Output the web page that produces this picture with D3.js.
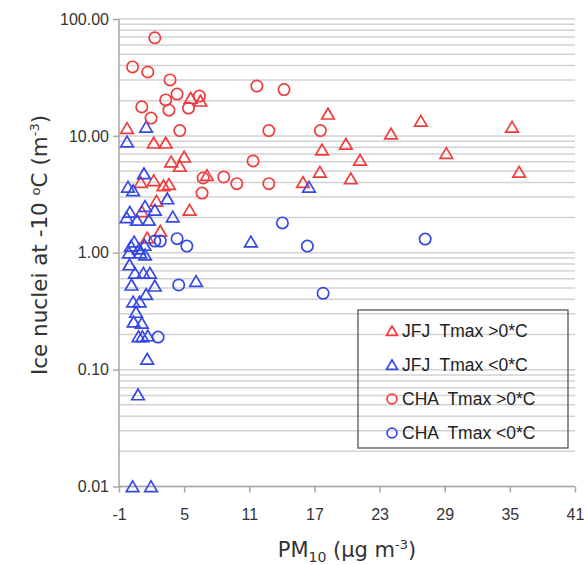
<!DOCTYPE html>
<meta charset="UTF-8">
<style>
    body { margin: 0; background: #fff; }
    text { font-family: "Liberation Sans", Arial, sans-serif; }
    .grid line { stroke: #d2d2d2; stroke-width: 1.5px; }
    .axis path, .axis line { stroke: #a6a6a6; stroke-width: 1.5px; }
    .axis text { font-size: 16px; fill: #333; }
    .legend text { font-size: 17.5px; fill: #222; white-space: pre; }
    .title { font-family: "DejaVu Sans", sans-serif; font-size: 21px; fill: #333; }
</style>
<body>
<div id="chart"></div>
<script src="https://d3js.org/d3.v7.min.js"></script>
<script>

// JFJ, Tmax > 0 C  (red triangles)
var jfjWarmX = [5.6, 6.5, -0.26, 2.2, 3.3, 3.8, 5.0, 4.6, 1.0, 2.2, 3.1, 3.6, 7.1, 2.45, 5.5, 1.1, 2.8, 1.6,
                18.25, 26.8, 35.2, 24.05, 19.9, 17.7, 29.15, 21.2, 17.5, 35.85, 20.35, 15.95];
var jfjWarmY = [21.0, 19.9, 11.6, 8.7, 8.7, 6.0, 6.6, 5.5, 4.0, 4.15, 3.75, 3.85, 4.6, 2.77, 2.32, 2.25, 1.53, 1.34,
                15.4, 13.4, 11.9, 10.4, 8.5, 7.6, 7.1, 6.2, 4.9, 4.9, 4.3, 4.0];

// JFJ, Tmax < 0 C  (blue triangles)
var jfjColdX = [1.5, -0.26, 1.3, -0.17, 0.3, 3.45, 0.0, 1.4, 2.3, -0.3, 0.65, 1.75, 3.95,
                0.4, 0.1, 0.85, 1.35, -0.08, 0.95, 1.4, -0.03, 0.47, 1.25, 1.85, 0.15, 2.3, 6.1,
                1.5, 0.3, 0.9, 0.57, 0.35, 1.1, 0.8, 1.15, 1.65, 1.6, 0.75, 0.25, 1.95, 16.5, 11.15];
var jfjColdY = [11.9, 8.9, 4.75, 3.65, 3.4, 2.9, 2.23, 2.5, 2.32, 2.0, 1.9, 1.9, 2.03,
                1.24, 1.14, 1.08, 1.16, 1.0, 1.0, 0.96, 0.79, 0.67, 0.67, 0.67, 0.53, 0.52, 0.57,
                0.44, 0.38, 0.38, 0.31, 0.256, 0.25, 0.192, 0.192, 0.195, 0.123, 0.061, 0.01, 0.01, 3.65, 1.24];

// CHA, Tmax > 0 C  (red circles)
var chaWarmX = [2.3, 0.25, 1.65, 3.7, 4.35, 3.3, 6.4, 1.1, 3.6, 5.4, 1.95, 4.6, 6.75, 8.65, 9.85, 6.65,
                11.7, 14.2, 12.8, 17.55, 11.35, 12.8];
var chaWarmY = [69, 38.9, 35.2, 30.1, 22.8, 20.3, 21.9, 17.7, 16.6, 17.3, 14.2, 11.1, 4.36, 4.45, 3.9, 3.24,
                26.7, 24.9, 11.1, 11.1, 6.1, 3.9];

// CHA, Tmax < 0 C  (blue circles)
var chaColdX = [2.3, 2.8, 4.35, 5.25, 4.5, 2.6, 14.05, 16.35, 17.8, 27.2];
var chaColdY = [1.26, 1.26, 1.32, 1.14, 0.53, 0.19, 1.8, 1.14, 0.45, 1.31];

var xTicks = [-1, 5, 11, 17, 23, 29, 35, 41];
var yTicks = [0.01, 0.1, 1, 10, 100];
var legendLabels = ["JFJ  Tmax >0*C", "JFJ  Tmax <0*C", "CHA  Tmax >0*C", "CHA  Tmax <0*C"];

var red = "#f03c3c", blue = "#3748e4";

// series table built from the arrays above
var series = [
    {x: jfjWarmX, y: jfjWarmY, shape: "tri", color: red},
    {x: jfjColdX, y: jfjColdY, shape: "tri", color: blue},
    {x: chaWarmX, y: chaWarmY, shape: "circ", color: red},
    {x: chaColdX, y: chaColdY, shape: "circ", color: blue}
];

// set the dimensions and margins of the graph
var svgW = 587, svgH = 565;
var margin = {top: 19, left: 119},
    width = 456,
    height = 467.5;

var x = d3.scaleLinear().domain([-1, 41]).range([0, width]);
var y = d3.scaleLog().domain([0.01, 100]).range([height, 0]);

var svg = d3.select("#chart").append("svg")
    .attr("width", svgW)
    .attr("height", svgH);

var g = svg.append("g")
    .attr("transform", "translate(" + margin.left + "," + margin.top + ")");

// horizontal grid lines on every 1..9 of each decade
var gridVals = [];
yTicks.slice(0, -1).forEach(function(d) {
    for (var k = 1; k < 10; k++) gridVals.push(d * k);
});
gridVals.push(100);

g.append("g").attr("class", "grid")
    .selectAll("line")
    .data(gridVals)
    .enter().append("line")
    .attr("x1", 0).attr("x2", width)
    .attr("y1", function(d) { return y(d); })
    .attr("y2", function(d) { return y(d); });

// Add the X Axis (plain hyphen for the -1 label)
var xAxis = g.append("g")
    .attr("class", "axis")
    .attr("transform", "translate(0," + height + ")")
    .call(d3.axisBottom(x).tickValues(xTicks).tickFormat(function(d) { return String(d); })
        .tickSizeOuter(0).tickSize(6).tickPadding(16));
xAxis.select(".domain").attr("d", "M0,0H" + width);

// Add the Y Axis
var yAxis = g.append("g")
    .attr("class", "axis")
    .call(d3.axisLeft(y).tickValues(yTicks).tickFormat(d3.format(".2f")).tickSizeOuter(0).tickSize(6).tickPadding(4));
yAxis.select(".domain").attr("d", "M0,0V" + height);

// marker shapes
function triPath(s) {
    return "M0," + (-0.9 * s) + "L" + s + "," + (0.8 * s) + "L" + (-s) + "," + (0.8 * s) + "Z";
}

function drawMarker(sel, shape, color, s) {
    if (shape === "tri") {
        sel.append("path").attr("d", triPath(s));
    } else {
        sel.append("circle").attr("r", s * 0.9);
    }
    sel.selectAll("path, circle")
        .attr("fill", "none")
        .attr("stroke", color)
        .attr("stroke-width", 1.7);
}

// Add the points
series.forEach(function(s) {
    var pts = s.x.map(function(v, i) { return [v, s.y[i]]; });
    g.append("g").selectAll("g")
        .data(pts)
        .enter().append("g")
        .attr("transform", function(d) { return "translate(" + x(d[0]) + "," + y(d[1]) + ")"; })
        .each(function() { drawMarker(d3.select(this), s.shape, s.color, 6.3); });
});

// legend
var legend = svg.append("g").attr("class", "legend");
legend.append("rect")
    .attr("x", 358).attr("y", 310)
    .attr("width", 210).attr("height", 138)
    .attr("fill", "none")
    .attr("stroke", "#555")
    .attr("stroke-width", 1.3);

legendLabels.forEach(function(lab, i) {
    var ly = 331 + i * 34;
    var m = legend.append("g").attr("transform", "translate(392," + ly + ")");
    drawMarker(m, series[i].shape, series[i].color, 5.5);
    legend.append("text")
        .attr("x", 402).attr("y", ly + 6)
        .attr("xml:space", "preserve")
        .text(lab);
});

// axis titles
var xt = svg.append("text")
    .attr("class", "title")
    .attr("x", 347).attr("y", 557)
    .attr("text-anchor", "middle");
xt.append("tspan").text("PM");
xt.append("tspan").attr("dy", 5).style("font-size", "14px").text("10");
xt.append("tspan").attr("dy", -5).text(" (\u00b5g m");
xt.append("tspan").attr("dy", -8).style("font-size", "13px").text("-3");
xt.append("tspan").attr("dy", 8).text(")");

var yt = svg.append("text")
    .attr("class", "title")
    .attr("transform", "translate(47,245) rotate(-90)")
    .attr("text-anchor", "middle")
    .style("font-size", "21.5px");
yt.append("tspan").text("Ice nuclei at -10 ");
yt.append("tspan").attr("dy", -7).style("font-size", "13px").text("o");
yt.append("tspan").attr("dy", 7).text("C (m");
yt.append("tspan").attr("dy", -8).style("font-size", "13px").text("-3");
yt.append("tspan").attr("dy", 8).text(")");

</script>
</body>
